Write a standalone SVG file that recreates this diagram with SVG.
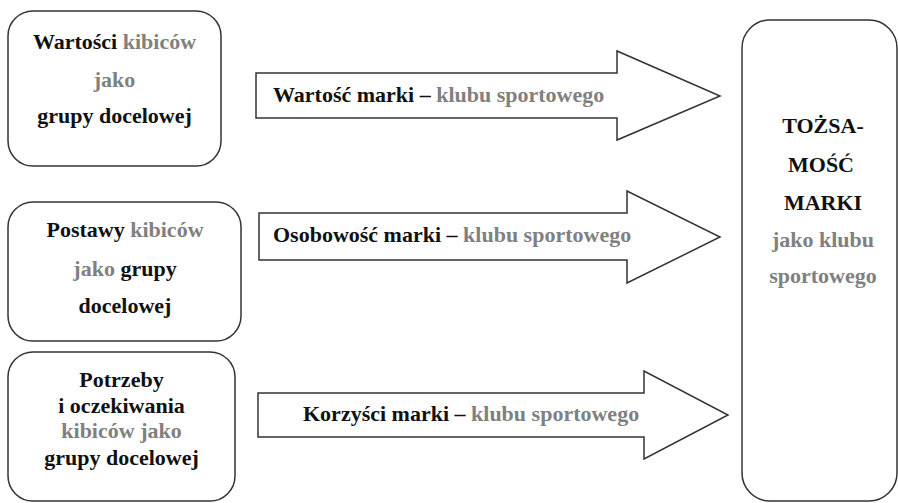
<svg xmlns="http://www.w3.org/2000/svg" width="898" height="503" viewBox="0 0 898 503">
<style>
.box{fill:#fff;stroke:#333;stroke-width:1.5}
.arr{fill:#fff;stroke:#333;stroke-width:1.5;stroke-linejoin:miter}
.t{font-family:'Liberation Serif','Times New Roman',Times,'Nimbus Roman','Nimbus Roman No9 L',Tinos,'Noto Serif','DejaVu Serif','FreeSerif',serif;font-size:22px;font-weight:bold;fill:#111}
.c{text-anchor:middle}
.g{fill:#808080}
</style>
<rect width="898" height="503" fill="#fff"/>
<g id="connectors">
<polygon class="arr" points="256,73 617,73 617,51 720,96 617,140 617,118 256,118"/>
<polygon class="arr" points="259,213 627,213 627,191 720,237 627,283 627,260 259,260"/>
<polygon class="arr" points="258,393 644,393 644,371 728,415 644,459 644,437 258,437"/>
<text class="t" x="273" y="102">Wartość marki – <tspan class="g">klubu sportowego</tspan></text>
<text class="t" x="273" y="242">Osobowość marki – <tspan class="g">klubu sportowego</tspan></text>
<text class="t" x="303" y="421">Korzyści marki – <tspan class="g">klubu sportowego</tspan></text>
</g>
<g id="node-wartosci">
<rect class="box" x="8" y="11" width="213" height="155" rx="25"/>
<text class="t c" x="114.5" y="49">Wartości <tspan class="g">kibiców</tspan></text>
<text class="t c g" x="114.5" y="87">jako</text>
<text class="t c" x="114.5" y="123">grupy docelowej</text>
</g>
<g id="node-postawy">
<rect class="box" x="8" y="202" width="233" height="139" rx="25"/>
<text class="t c" x="125" y="237">Postawy <tspan class="g">kibiców</tspan></text>
<text class="t c" x="125" y="276"><tspan class="g">jako</tspan> grupy</text>
<text class="t c" x="125" y="313">docelowej</text>
</g>
<g id="node-potrzeby">
<rect class="box" x="8" y="352" width="227" height="149" rx="25"/>
<text class="t c" x="121.5" y="387">Potrzeby</text>
<text class="t c" x="121.5" y="413">i oczekiwania</text>
<text class="t c g" x="121.5" y="438">kibiców jako</text>
<text class="t c" x="121.5" y="465">grupy docelowej</text>
</g>
<g id="node-tozsamosc">
<rect class="box" x="742" y="20" width="155" height="481" rx="28"/>
<text class="t c" x="823" y="133">TOŻSA-</text>
<text class="t c" x="821" y="172">MOŚĆ</text>
<text class="t c" x="823" y="210">MARKI</text>
<text class="t c g" x="823" y="247">jako klubu</text>
<text class="t c g" x="823" y="283">sportowego</text>
</g>
</svg>
